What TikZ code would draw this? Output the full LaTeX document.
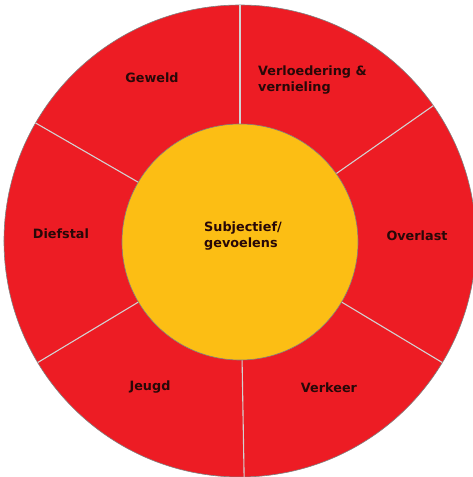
\documentclass[tikz,border=0pt]{standalone}
\usepackage{fontspec}
\setmainfont{DejaVu Sans}
\usepackage{tikz}

\definecolor{ringred}{RGB}{237,28,36}
\definecolor{coreyellow}{RGB}{252,190,20}
\definecolor{labeltext}{RGB}{40,8,8}

\tikzset{
	ringlabel/.style={font=\bfseries\fontsize{12.8}{15.5}\selectfont, text=labeltext, inner sep=0pt},
	divider/.style={draw=white!65!gray, line width=1.1pt},
}

\begin{document}
\begin{tikzpicture}[x=1pt,y=1pt]
					\useasboundingbox (-240,-236) rectangle (232,241);
					\fill[white] (-240,-236) rectangle (232,241);
					\filldraw[fill=ringred, draw=gray, line width=0.6pt] (0,0) circle (236);
					
												% Dividers between the sectors
					\foreach \a in {90,35,-31,-89,-149,150}
						\draw[divider] (\a:110) -- (\a:236);
					
					\filldraw[fill=coreyellow, draw=gray, line width=0.6pt] (0,-1) circle (118);
					
					\node[ringlabel, anchor=north west, align=left] (subjectief) at (-36,19) {Subjectief/\\gevoelens};
					\node[ringlabel, anchor=base] (geweld) at (-88,158) {Geweld};
					\node[ringlabel, anchor=north west, align=left] (verloedering) at (18,175) {Verloedering \&\\vernieling};
					\node[ringlabel, anchor=base] (diefstal) at (-179,3) {Diefstal};
					\node[ringlabel, anchor=base] (overlast) at (177,1) {Overlast};
					\node[ringlabel, anchor=base] (jeugd) at (-90,-149) {Jeugd};
					\node[ringlabel, anchor=base] (verkeer) at (89,-151) {Verkeer};
				\end{tikzpicture}
\end{document}
